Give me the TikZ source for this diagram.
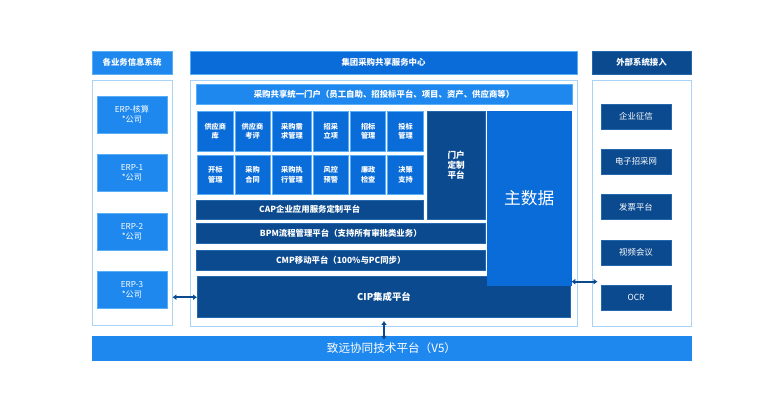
\documentclass[tikz,border=0pt]{standalone}
\usepackage{fontspec}
\setmainfont{Noto Sans CJK SC}
\usetikzlibrary{positioning,arrows.meta}
\definecolor{lightblue}{HTML}{1E88EE}
\definecolor{midblue}{HTML}{0A6CD8}
\definecolor{navyblue}{HTML}{0B4A8F}
\definecolor{paleblue}{HTML}{A9D3F7}
\definecolor{edgeblue}{HTML}{5AAEF5}

\begin{document}
\begin{tikzpicture}[x=1pt,y=-1pt]
    \tikzstyle{block} = [rectangle, draw=edgeblue, line width=0.5pt, fill=lightblue,
    text=white, font=\bfseries\fontsize{8.4}{10}\selectfont, align=center, inner sep=1pt]
    \tikzstyle{navy} = [block, fill=navyblue, draw=navyblue!70!edgeblue]
    \tikzstyle{panel} = [rectangle, draw=paleblue, line width=0.8pt, fill=white]
    \tikzstyle{gridcell} = [block, fill=midblue, font=\bfseries\fontsize{7.2}{9.3}\selectfont,
    minimum height=39.3pt]
    \tikzstyle{line} = [draw=navyblue, line width=2pt, {Latex[length=4pt,width=6pt]}-{Latex[length=4pt,width=6pt]}]

    \useasboundingbox (0,0) rectangle (782,400);

    % Headers
    \node[block, minimum width=80pt, minimum height=23pt] (lefthead) at (132,62.5) {各业务信息系统};
    \node[block, fill=midblue, minimum width=387pt, minimum height=23pt] (midhead) at (383.5,62.5) {集团采购共享服务中心};
    \node[navy, minimum width=99pt, minimum height=23pt] (righthead) at (641.5,62.5) {外部系统接入};

    % Panels
    \node[panel, minimum width=80pt, minimum height=245pt] (leftpanel) at (132,202.5) {};
    \node[panel, minimum width=387pt, minimum height=246pt] (midpanel) at (383.5,203) {};
    \node[panel, minimum width=99pt, minimum height=246pt] (rightpanel) at (641.5,203) {};

    % Business systems
    \tikzstyle{erp} = [block, minimum width=70pt, minimum height=37pt, font=\fontsize{8.2}{10}\selectfont]
    \node[erp] (erp0) at (132,114.3) {ERP-核算\\*公司};
    \node[erp] (erp1) at (132,172.7) {ERP-1\\*公司};
    \node[erp] (erp2) at (132,231.3) {ERP-2\\*公司};
    \node[erp] (erp3) at (132,289.7) {ERP-3\\*公司};

    % Shared service center
    \node[block, minimum width=376pt, minimum height=20pt] (portal) at (384,94)
    {采购共享统一门户（员工自助、招投标平台、项目、资产、供应商等）};

    \foreach \x/\w/\upper/\lower [count=\i] in {
      215.3/36/供应商\\库/开标\\管理,
      252.5/35/供应商\\考评/采购\\合同,
      292/39.4/采购需\\求管理/采购执\\行管理,
      330.8/35/招采\\立项/风控\\预警,
      368.2/35/招标\\管理/廉政\\检查,
      405.5/35.6/投标\\管理/决策\\支持}
    {
      \node[gridcell, minimum width=\w pt] (grid-1-\i) at (\x,131.3) {\upper};
      \node[gridcell, minimum width=\w pt] (grid-2-\i) at (\x,174.7) {\lower};
    }

    \node[navy, minimum width=57.7pt, minimum height=107.3pt, font=\bfseries\fontsize{8.6}{10}\selectfont]
    (custom) at (456.2,165.3) {门户\\定制\\平台};
    \node[navy, minimum width=227.3pt, minimum height=19pt] (cap) at (309.7,209.5) {CAP企业应用服务定制平台};
    \node[navy, minimum width=289.7pt, minimum height=20pt] (bpm) at (340.8,233.3) {BPM流程管理平台（支持所有审批类业务）};
    \node[navy, minimum width=289.7pt, minimum height=20pt] (cmp) at (340.8,260.7) {CMP移动平台（100\%与PC同步）};
    \node[navy, minimum width=373.4pt, minimum height=41pt, font=\bfseries\fontsize{9.4}{11}\selectfont] (cip) at (384,297.2) {CIP集成平台};
    \node[block, fill=midblue, draw=midblue, minimum width=83.7pt, minimum height=173.3pt,
    font=\fontsize{16.7}{20}\selectfont] (masterdata) at (529.2,198.3) {主数据};

    % External systems
    \tikzstyle{extsys} = [navy, minimum width=70pt, minimum height=25pt, font=\fontsize{8.4}{10}\selectfont]
    \node[extsys] (credit) at (636,116.3) {企业征信};
    \node[extsys] (bidnet) at (636,161.8) {电子招采网};
    \node[extsys] (invoice) at (636,206.8) {发票平台};
    \node[extsys] (video) at (636,252.5) {视频会议};
    \node[extsys] (ocr) at (636,297.5) {OCR};

    % Technical platform
    \node[block, draw=lightblue, minimum width=599pt, minimum height=24pt,
    font=\fontsize{11.6}{13}\selectfont] (platform) at (391.5,348) {致远协同技术平台（V5）};

    % Connections
    \path[line] (cip.west -| leftpanel.east) -- (cip.west);
    \path[line, shorten >=-6pt] ([yshift=3.5pt]masterdata.south east) -- ([yshift=3.5pt]masterdata.south east -| rightpanel.west);
    \path[line] ([yshift=-3pt]cip.south) -- ([yshift=-4pt]cip.south |- platform.north);

  \end{tikzpicture}
\end{document}
